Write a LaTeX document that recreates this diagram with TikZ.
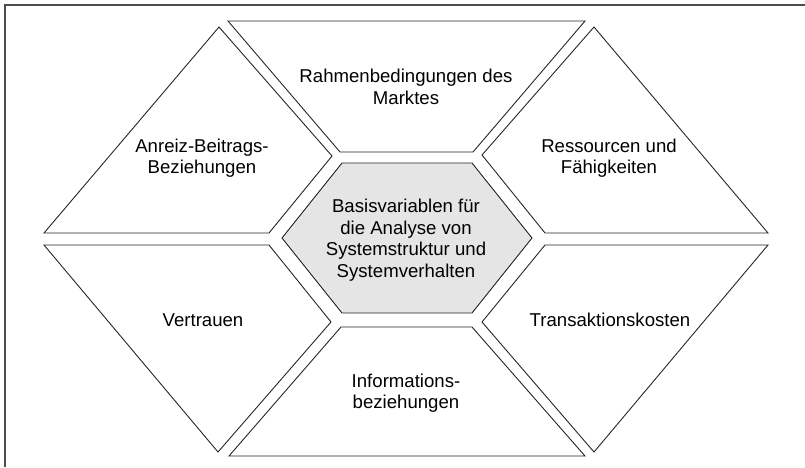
\documentclass[tikz,border=0pt]{standalone}
\usepackage{fontspec}
\setmainfont{Liberation Sans}
\newcommand{\lbltext}{\fontsize{18.6}{21.5}\selectfont}

\begin{document}
\begin{tikzpicture}[x=1pt,y=-1pt]
\useasboundingbox (0,0) rectangle (805,467);
\draw[black!70, line width=1.6pt] (5,467) |- (805,5);

\begin{scope}[every path/.style={draw=black!85, line width=0.9pt}]
    % centre
    \filldraw[fill=black!10] (342,163) -- (472,163) -- (532,238) -- (472,313)
        -- (342,313) -- (282,238) -- cycle;
    % top and bottom
    \draw (228,21) -- (585,21) -- (473,152) -- (340,152) -- cycle;
    \draw (229,456) -- (585,456) -- (472,327) -- (341,327) -- cycle;
    % left
    \draw (219,27) -- (332,156) -- (269,233) -- (44,233) -- cycle;
    \draw (44,245) -- (269,245) -- (331,322) -- (218,452) -- cycle;
    % right
    \draw (594,27) -- (768,233) -- (545,233) -- (482,155) -- cycle;
    \draw (545,245) -- (768,245) -- (594,452) -- (482,322) -- cycle;
\end{scope}

\begin{scope}[every node/.style={align=center, text=black, font=\lbltext}]
    \node (rahmen) at (406,87) {Rahmenbedingungen des\\Marktes};
    \node (anreiz) at (202,158) {Anreiz-Beitrags-\\Beziehungen};
    \node (ressourcen) at (609,158) {Ressourcen und\\Fähigkeiten};
    \node (basis) at (406,240) {Basisvariablen für\\die Analyse von\\Systemstruktur und\\Systemverhalten};
    \node (vertrauen) at (203,320) {Vertrauen};
    \node (transaktion) at (610,320) {Transaktionskosten};
    \node (info) at (406,393) {Informations-\\beziehungen};
\end{scope}
\end{tikzpicture}
\end{document}
